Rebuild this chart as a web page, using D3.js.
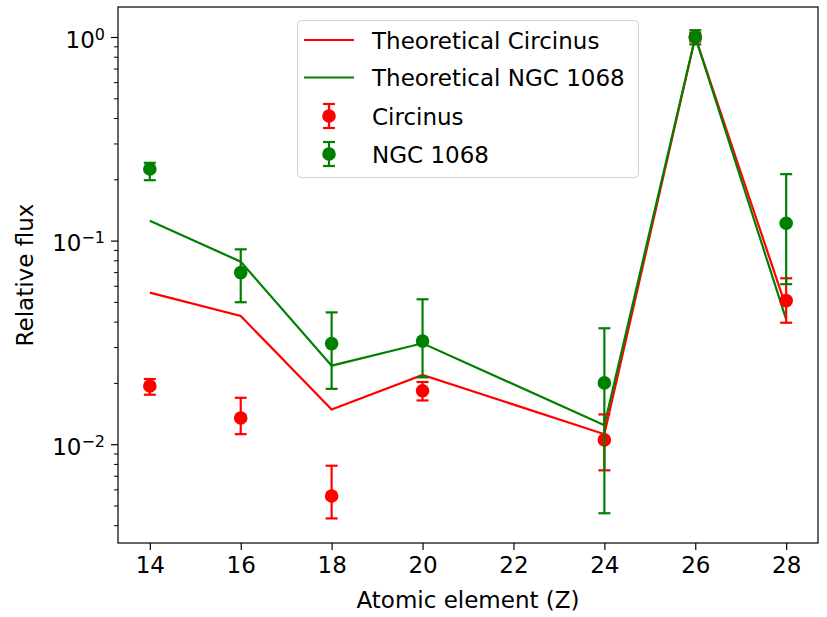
<!DOCTYPE html>
<html>
<head>
<meta charset="utf-8">
<script src="https://d3js.org/d3.v7.js"></script>
<style>
  body { margin: 0; background: #fff; }
  text { font-family: "DejaVu Sans", sans-serif; fill: #000; }
</style>
</head>
<body>
<div id="my_dataviz"></div>
<script>
// atomic numbers on the x axis
var elements = [14, 16, 18, 20, 24, 26, 28];

// theoretical curves
var theoCircinus = [0.0555, 0.0426, 0.0148, 0.0219, 0.0112, 1.0, 0.047];
var theoNGC1068 = [0.125, 0.0788, 0.0243, 0.0313, 0.0124, 1.0, 0.041];

// measured points with lower / upper error bar ends
var circinus = [0.0193, 0.01345, 0.00557, 0.0183, 0.0105, 1.0, 0.0507];
var circinusLow = [0.0175, 0.0112, 0.00432, 0.0164, 0.00744, 0.95, 0.0395];
var circinusHigh = [0.0209, 0.0169, 0.00784, 0.0202, 0.0140, 1.05, 0.0653];

var ngc1068 = [0.2246, 0.0696, 0.0312, 0.0321, 0.0200, 1.0, 0.1216];
var ngc1068Low = [0.198, 0.0498, 0.0187, 0.0213, 0.00458, 0.92, 0.0611];
var ngc1068High = [0.241, 0.0906, 0.0444, 0.0515, 0.0371, 1.08, 0.212];

var xTicks = [14, 16, 18, 20, 22, 24, 26, 28];
var yTicks = [1, 0.1, 0.01];
var yTickExp = ["0", "\u22121", "\u22122"];

var legendNames = ["Theoretical Circinus", "Theoretical NGC 1068", "Circinus", "NGC 1068"];

var width = 827, height = 617;
var mLeft = 118, mRight = 818, mTop = 7, mBottom = 543;
var red = "#ff0000", green = "#008000";
var lw = 2.2;

var svg = d3.select("#my_dataviz").append("svg")
    .attr("width", width)
    .attr("height", height);

// set the ranges
var x = d3.scaleLinear().domain([13.3, 28.7]).range([mLeft, mRight]);
var y = d3.scaleLog().domain([0.003271, 1.404]).range([mBottom, mTop]);

// x axis
var xAxis = svg.append("g")
    .attr("transform", "translate(0," + mBottom + ")")
    .call(d3.axisBottom(x).tickValues(xTicks).tickSize(7).tickPadding(7).tickFormat(d3.format("d")));
xAxis.select(".domain").remove();
xAxis.selectAll("line").attr("stroke", "#000").attr("stroke-width", 1.2);
xAxis.selectAll("text").attr("font-size", 23).attr("font-family", "DejaVu Sans").attr("dy", "0.71em");

// y axis: minor ticks, then major ticks drawn by hand for the superscripts
var minor = [];
[0.001, 0.01, 0.1].forEach(function(dec) {
  for (var k = 2; k <= 9; k++) minor.push(dec * k);
});
minor = minor.filter(function(v) { return v >= y.domain()[0] && v <= y.domain()[1]; });

var yAxis = svg.append("g")
    .attr("transform", "translate(" + mLeft + ",0)")
    .call(d3.axisLeft(y).tickValues(minor).tickSize(4).tickFormat(""));
yAxis.select(".domain").remove();
yAxis.selectAll("line").attr("stroke", "#000").attr("stroke-width", 1);

var yMajor = svg.append("g")
    .attr("transform", "translate(" + mLeft + ",0)")
    .call(d3.axisLeft(y).tickValues(yTicks).tickSize(7).tickFormat(""));
yMajor.select(".domain").remove();
yMajor.selectAll("line").attr("stroke", "#000").attr("stroke-width", 1.2);

yTicks.forEach(function(v, i) {
  var t = svg.append("text")
      .attr("x", 105)
      .attr("y", y(v) + 10.5)
      .attr("text-anchor", "end")
      .attr("font-size", 23);
  t.append("tspan").text("10");
  t.append("tspan").attr("dy", -8).attr("font-size", 16).text(yTickExp[i]);
});

// axis labels
svg.append("text")
    .attr("x", (mLeft + mRight) / 2)
    .attr("y", 608)
    .attr("text-anchor", "middle")
    .attr("font-size", 23)
    .text("Atomic element (Z)");

svg.append("text")
    .attr("transform", "translate(33," + ((mTop + mBottom) / 2) + ") rotate(-90)")
    .attr("text-anchor", "middle")
    .attr("font-size", 23)
    .text("Relative flux");

var plot = svg.append("g");

// theoretical lines
var line = d3.line()
    .x(function(d) { return x(d[0]); })
    .y(function(d) { return y(d[1]); });

plot.append("path")
    .datum(d3.zip(elements, theoCircinus))
    .attr("d", line)
    .attr("fill", "none")
    .attr("stroke", red)
    .attr("stroke-width", lw);

plot.append("path")
    .datum(d3.zip(elements, theoNGC1068))
    .attr("d", line)
    .attr("fill", "none")
    .attr("stroke", green)
    .attr("stroke-width", lw);

// error bars + markers
function errorbars(vals, lo, hi, color) {
  var g = plot.append("g");
  var rows = elements.map(function(z, i) { return {z: z, v: vals[i], lo: lo[i], hi: hi[i]}; });
  var cap = 6;
  g.selectAll(".bar").data(rows).enter().append("line")
      .attr("x1", function(d) { return x(d.z); })
      .attr("x2", function(d) { return x(d.z); })
      .attr("y1", function(d) { return y(d.lo); })
      .attr("y2", function(d) { return y(d.hi); })
      .attr("stroke", color).attr("stroke-width", lw);
  g.selectAll(".capLo").data(rows).enter().append("line")
      .attr("x1", function(d) { return x(d.z) - cap; })
      .attr("x2", function(d) { return x(d.z) + cap; })
      .attr("y1", function(d) { return y(d.lo); })
      .attr("y2", function(d) { return y(d.lo); })
      .attr("stroke", color).attr("stroke-width", lw);
  g.selectAll(".capHi").data(rows).enter().append("line")
      .attr("x1", function(d) { return x(d.z) - cap; })
      .attr("x2", function(d) { return x(d.z) + cap; })
      .attr("y1", function(d) { return y(d.hi); })
      .attr("y2", function(d) { return y(d.hi); })
      .attr("stroke", color).attr("stroke-width", lw);
  g.selectAll("circle").data(rows).enter().append("circle")
      .attr("cx", function(d) { return x(d.z); })
      .attr("cy", function(d) { return y(d.v); })
      .attr("r", 6.8)
      .attr("fill", color);
}
errorbars(circinus, circinusLow, circinusHigh, red);
errorbars(ngc1068, ngc1068Low, ngc1068High, green);

// frame
svg.append("rect")
    .attr("x", mLeft).attr("y", mTop)
    .attr("width", mRight - mLeft).attr("height", mBottom - mTop)
    .attr("fill", "none")
    .attr("stroke", "#000")
    .attr("stroke-width", 1.2);

// legend
var legend = svg.append("g");
legend.append("rect")
    .attr("x", 297.5).attr("y", 20.5)
    .attr("width", 341).attr("height", 157)
    .attr("rx", 4)
    .attr("fill", "#fff").attr("fill-opacity", 0.8)
    .attr("stroke", "#d0d0d0").attr("stroke-width", 1);

var rowY = [40, 77.5, 116, 154];
var colors = [red, green, red, green];
legendNames.forEach(function(name, i) {
  var cy = rowY[i];
  if (i < 2) {
    legend.append("line")
        .attr("x1", 304).attr("x2", 354)
        .attr("y1", cy).attr("y2", cy)
        .attr("stroke", colors[i]).attr("stroke-width", lw);
  } else {
    legend.append("line")
        .attr("x1", 329).attr("x2", 329)
        .attr("y1", cy - 12).attr("y2", cy + 12)
        .attr("stroke", colors[i]).attr("stroke-width", lw);
    [-12, 12].forEach(function(o) {
      legend.append("line")
          .attr("x1", 323).attr("x2", 335)
          .attr("y1", cy + o).attr("y2", cy + o)
          .attr("stroke", colors[i]).attr("stroke-width", lw);
    });
    legend.append("circle")
        .attr("cx", 329).attr("cy", cy).attr("r", 6.8)
        .attr("fill", colors[i]);
  }
  legend.append("text")
      .attr("x", 372)
      .attr("y", cy + 8.5)
      .attr("font-size", 23)
      .text(name);
});
</script>
</body>
</html>
